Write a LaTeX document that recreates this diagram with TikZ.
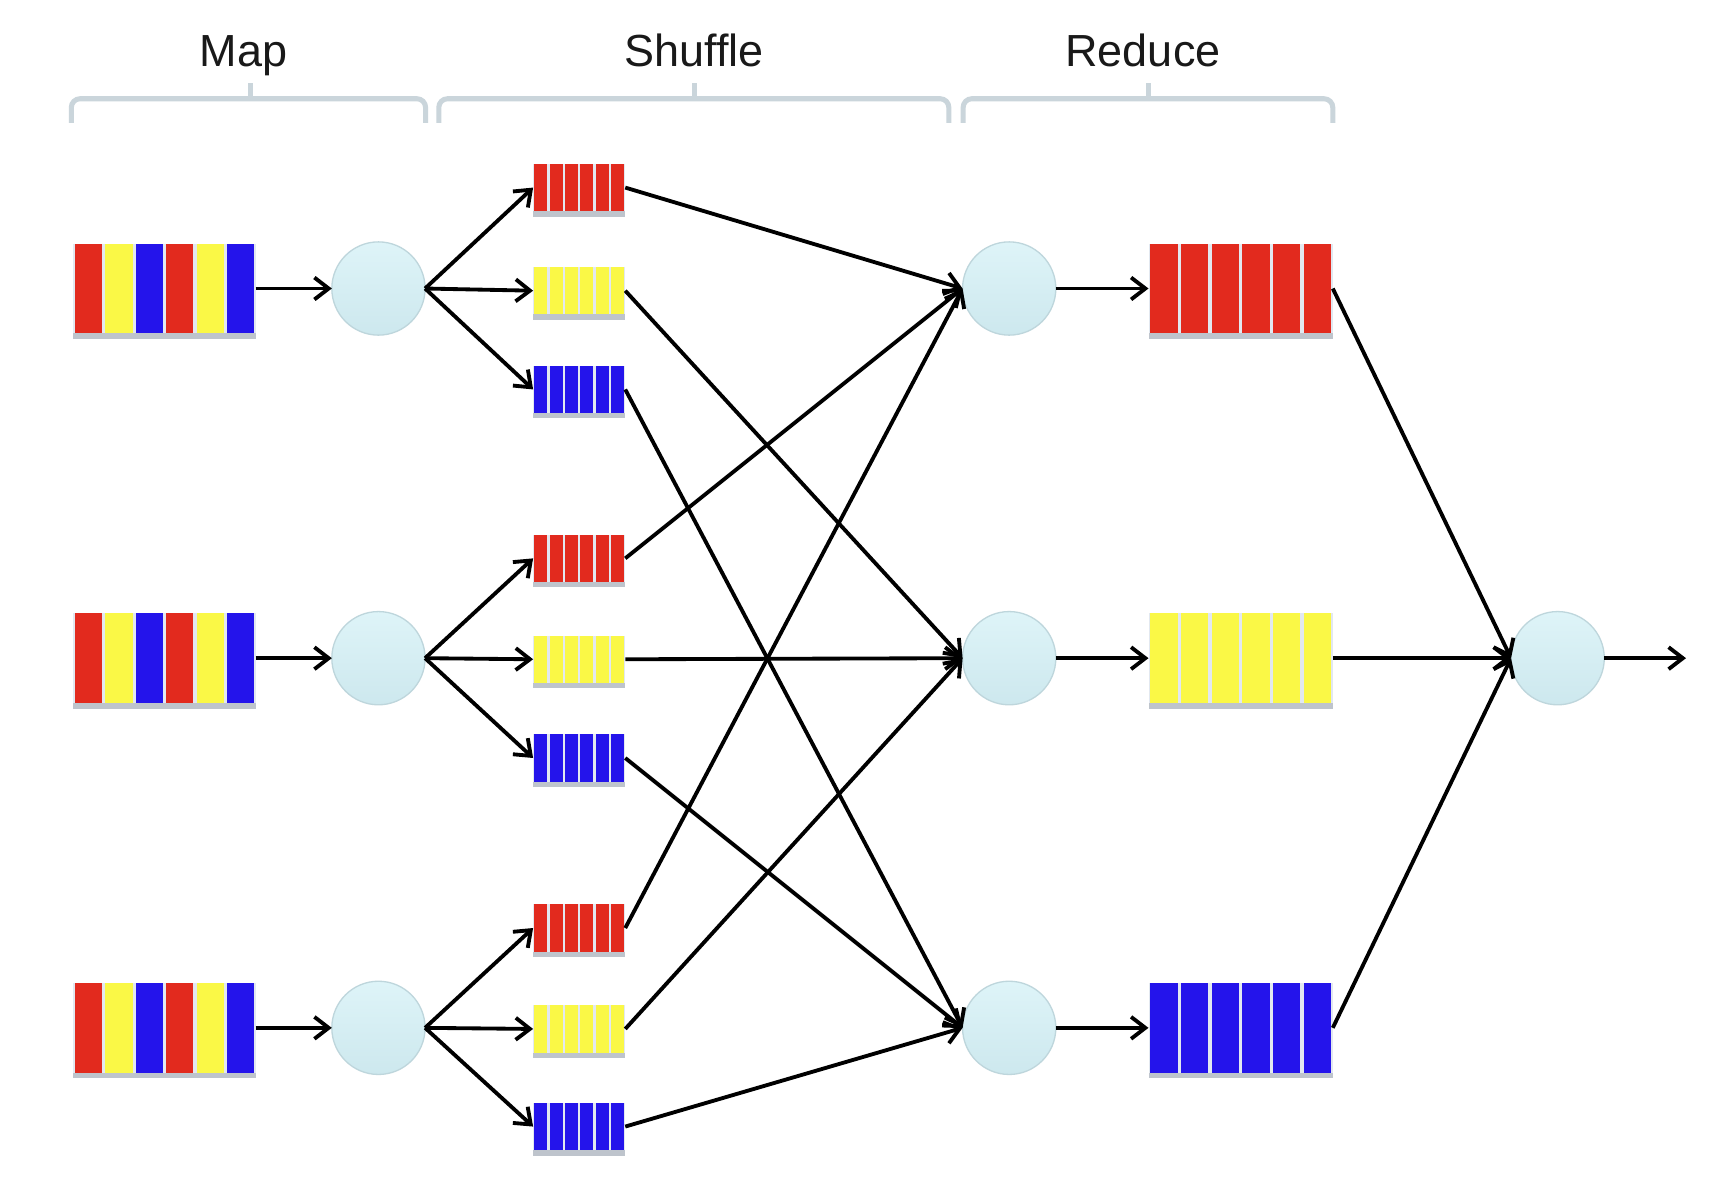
\documentclass[tikz,border=0pt]{standalone}
\usepackage{fontspec}
\setmainfont{Liberation Sans}
\usetikzlibrary{arrows.meta}
\definecolor{mred}{RGB}{226,42,30}
\definecolor{myel}{RGB}{250,248,70}
\definecolor{mblu}{RGB}{36,20,235}
\definecolor{gapcol}{RGB}{226,232,240}
\definecolor{shadowcol}{RGB}{190,196,204}
\definecolor{circt}{RGB}{222,244,248}
\definecolor{circbtm}{RGB}{205,232,238}
\definecolor{circb}{RGB}{190,214,220}
\definecolor{bracecol}{RGB}{202,213,219}
\newcommand\stripeblock[7]{%
  \fill[shadowcol] ({#2-#4/2},{#3+#5/2-2}) rectangle ({#2+#4/2},{#3+#5/2+5});
  \fill[gapcol] ({#2-#4/2},{#3-#5/2}) rectangle ({#2+#4/2},{#3+#5/2});
  \foreach \col [count=\i from 0] in {#6} {
    \fill[\col] ({#2-#4/2+\i*#4/6+#7},{#3-#5/2}) rectangle ({#2-#4/2+(\i+1)*#4/6-#7},{#3+#5/2});
  }
  \node[blockbox, minimum width={#4*0.5pt}, minimum height={#5*0.5pt}] (#1) at (#2,#3) {};
}
\begin{document}
\begin{tikzpicture}[x=0.5pt,y=-0.5pt]
\tikzset{
  flow/.style={line width=1.75pt, -{Straight Barb[length=6.5pt,width=10pt]}},
  proc/.style={circle, minimum size=42.5pt, inner sep=0pt, outer sep=0pt, draw=circb, line width=0.6pt, top color=circt, bottom color=circbtm},
  blockbox/.style={rectangle, inner sep=0pt, outer sep=0pt, draw=none},
  bracket/.style={draw=bracecol, line width=2.3pt, rounded corners=4pt},
  phase/.style={font=\fontsize{20.5}{24}\selectfont, text=black!90, inner sep=0pt, anchor=base}
}
\useasboundingbox (0,0) rectangle (1568,1073);
\fill[white] (0,0) rectangle (1568,1073);

% phase labels and brackets
\node[phase] (tmap) at (222,61) {Map};
\node[phase] (tshuf) at (633,61) {Shuffle};
\node[phase] (tred) at (1042,61) {Reduce};
\draw[bracket] (65,112) -- (65,90) -- (388,90) -- (388,112);
\draw[bracket] (228,90) -- (228,76);
\draw[bracket] (400,112) -- (400,90) -- (865,90) -- (865,112);
\draw[bracket] (633,90) -- (633,76);
\draw[bracket] (878,112) -- (878,90) -- (1215,90) -- (1215,112);
\draw[bracket] (1047,90) -- (1047,76);

% map inputs
\stripeblock{in1}{150}{263}{166}{82}{mred,myel,mblu,mred,myel,mblu}{1.5}
\stripeblock{in2}{150}{600}{166}{82}{mred,myel,mblu,mred,myel,mblu}{1.5}
\stripeblock{in3}{150}{937}{166}{82}{mred,myel,mblu,mred,myel,mblu}{1.5}

% map processes
\node[proc] (m1) at (345,263) {};
\node[proc] (m2) at (345,600) {};
\node[proc] (m3) at (345,937) {};

% shuffle buckets
\stripeblock{b1r}{528}{171}{84}{43}{mred,mred,mred,mred,mred,mred}{1.1}
\stripeblock{b1y}{528}{265}{84}{43}{myel,myel,myel,myel,myel,myel}{1.1}
\stripeblock{b1b}{528}{355}{84}{43}{mblu,mblu,mblu,mblu,mblu,mblu}{1.1}
\stripeblock{b2r}{528}{509}{84}{43}{mred,mred,mred,mred,mred,mred}{1.1}
\stripeblock{b2y}{528}{601}{84}{43}{myel,myel,myel,myel,myel,myel}{1.1}
\stripeblock{b2b}{528}{691}{84}{43}{mblu,mblu,mblu,mblu,mblu,mblu}{1.1}
\stripeblock{b3r}{528}{846}{84}{43}{mred,mred,mred,mred,mred,mred}{1.1}
\stripeblock{b3y}{528}{938}{84}{43}{myel,myel,myel,myel,myel,myel}{1.1}
\stripeblock{b3b}{528}{1027}{84}{43}{mblu,mblu,mblu,mblu,mblu,mblu}{1.1}

% reduce processes
\node[proc] (r1) at (920,263) {};
\node[proc] (r2) at (920,600) {};
\node[proc] (r3) at (920,937) {};

% reduce outputs
\stripeblock{o1}{1131}{263}{168}{82}{mred,mred,mred,mred,mred,mred}{1.5}
\stripeblock{o2}{1131}{600}{168}{82}{myel,myel,myel,myel,myel,myel}{1.5}
\stripeblock{o3}{1131}{937}{168}{82}{mblu,mblu,mblu,mblu,mblu,mblu}{1.5}

% final process
\node[proc] (fin) at (1420,600) {};
\coordinate (outend) at (1537,600);

% connectors
\draw[flow] (in1.east) -- (m1.west);
\draw[flow] (in2.east) -- (m2.west);
\draw[flow] (in3.east) -- (m3.west);
\foreach \r in {1,2,3}{
  \foreach \k in {r,y,b}{
    \draw[flow] (m\r.east) -- (b\r\k.west);
  }
}
\foreach \r in {1,2,3}{
  \draw[flow] (b\r r.east) -- (r1.west);
  \draw[flow] (b\r y.east) -- (r2.west);
  \draw[flow] (b\r b.east) -- (r3.west);
}
\draw[flow] (r1.east) -- (o1.west);
\draw[flow] (r2.east) -- (o2.west);
\draw[flow] (r3.east) -- (o3.west);
\draw[flow] (o1.east) -- (fin.west);
\draw[flow] (o2.east) -- (fin.west);
\draw[flow] (o3.east) -- (fin.west);
\draw[flow] (fin.east) -- (outend);
\end{tikzpicture}
\end{document}
